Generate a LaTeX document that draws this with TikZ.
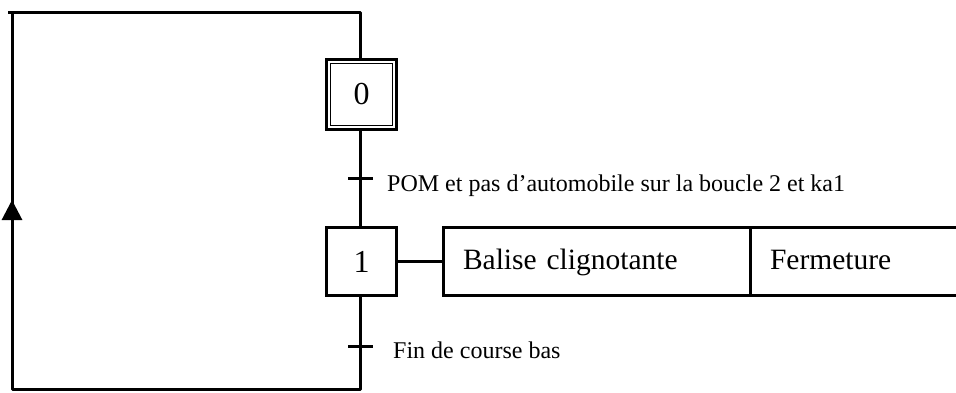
\documentclass[tikz,border=0pt]{standalone}
\usepackage{fontspec}
\setmainfont{Liberation Serif}
\usetikzlibrary{arrows.meta}
\tikzset{
  wire/.style={line width=3pt, line join=round},
  stepbox/.style={draw, line width=3pt, minimum width=70pt, minimum height=68pt, inner sep=0pt, font=\fontsize{32}{38}\selectfont},
  innerbox/.style={draw, line width=1.6pt, minimum width=62pt, minimum height=62pt, inner sep=0pt},
  actbox/.style={draw, line width=3pt, outer sep=0pt, minimum height=68pt, inner ysep=0pt, text height=22pt, text depth=7pt, align=left, font=\fontsize{29.5}{35}\selectfont},
  trlabel/.style={anchor=west, inner sep=0pt, font=\fontsize{24}{28}\selectfont},
}
\begin{document}
\begin{tikzpicture}[x=1pt, y=-1pt]
\useasboundingbox (0,0) rectangle (956,392);
\clip (0,0) rectangle (956,392);
% step 0 (initial)
\node[stepbox, minimum height=70pt] (s0) at (361.5,94.5) {};
\node[innerbox, font=\fontsize{32}{38}\selectfont] (s0i) at (361.5,94.5) {0};
% step 1
\node[stepbox] (s1) at (361.5,261.5) {1};
% actions
\node[actbox, text width=267pt, inner xsep=20pt] (a1) at (596.5,261.5) {Balise clignotante};
\node[actbox, text width=220pt, inner xsep=20pt, anchor=west] (a2) at (a1.east) {Fermeture};
% transitions
\coordinate (t1) at (360,178);
\coordinate (t2) at (360,346);
\draw[wire] (s0.south -| t1) -- (s1.north -| t1);
\draw[wire] ([xshift=-12pt]t1) -- ([xshift=13pt]t1);
\node[trlabel] (l1) at (387,186) {POM et pas d’automobile sur la boucle 2 et ka1};
\draw[wire] (s1.east) -- (a1.west);
% loop back
\coordinate (c1) at (360,389);
\coordinate (c2) at (12,389);
\coordinate (c3) at (12,12);
\coordinate (c3o) at (8,12);
\coordinate (c4) at (360,12);
\coordinate (tip) at (12,200);
\draw[wire] (s1.south -| t2) -- (c1) -- (c2) -- (c3);
\draw[wire] (c3o) -- (c4) -- (s0.north -| c4);
\draw[wire] ([xshift=-12pt]t2) -- ([xshift=13pt]t2);
\node[trlabel] (l2) at (393,350) {Fin de course bas};
\draw[line width=3pt, -{Triangle[length=20pt, width=20pt]}] (c2) -- (tip);
\end{tikzpicture}
\end{document}
